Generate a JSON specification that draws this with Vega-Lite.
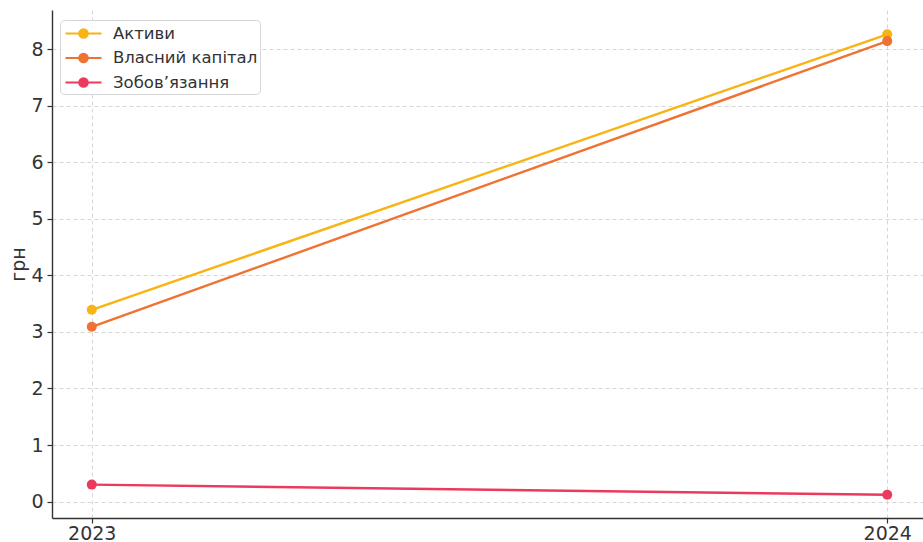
{
  "$schema": "https://vega.github.io/schema/vega-lite/v6.json",
  "width": 875,
  "height": 508,
  "autosize": {"type": "none"},
  "padding": {"left": 52, "top": 10, "right": 0, "bottom": 24},
  "background": "white",
  "config": {
    "font": "DejaVu Sans",
    "view": {"stroke": null},
    "axis": {
      "domainColor": "#333333",
      "domainWidth": 1.4,
      "tickColor": "#333333",
      "tickWidth": 1.2,
      "tickSize": 5,
      "labelColor": "#333333",
      "labelFont": "DejaVu Sans",
      "labelFontSize": 19,
      "grid": true,
      "gridColor": "#cccccc",
      "gridDash": [4, 3],
      "gridWidth": 0.8,
      "titleFont": "DejaVu Sans",
      "titleFontWeight": "normal",
      "titleColor": "#333333"
    }
  },
  "data": {
    "values": [
      {"year": 2023, "series": "Активи", "value": 3.39},
      {"year": 2024, "series": "Активи", "value": 8.26},
      {"year": 2023, "series": "Власний капітал", "value": 3.09},
      {"year": 2024, "series": "Власний капітал", "value": 8.14},
      {"year": 2023, "series": "Зобов’язання", "value": 0.30},
      {"year": 2024, "series": "Зобов’язання", "value": 0.12}
    ]
  },
  "mark": {"type": "line", "strokeWidth": 2.4, "point": {"size": 100, "filled": true, "opacity": 1}},
  "encoding": {
    "x": {
      "field": "year",
      "type": "quantitative",
      "scale": {"domain": [2022.95, 2024.05], "nice": false, "zero": false},
      "axis": {"values": [2023, 2024], "format": "d", "title": null, "labelPadding": 1}
    },
    "y": {
      "field": "value",
      "type": "quantitative",
      "scale": {"domain": [-0.29, 8.69], "nice": false, "zero": false},
      "axis": {"values": [0, 1, 2, 3, 4, 5, 6, 7, 8], "title": "грн", "titleFontSize": 19, "titlePadding": 2, "labelPadding": 4}
    },
    "color": {
      "field": "series",
      "type": "nominal",
      "sort": ["Активи", "Власний капітал", "Зобов’язання"],
      "scale": {
        "domain": ["Активи", "Власний капітал", "Зобов’язання"],
        "range": ["#F9B414", "#F07233", "#EC3A5E"]
      },
      "legend": {
        "orient": "none",
        "legendX": 8,
        "legendY": 10,
        "title": null,
        "fillColor": "rgba(255,255,255,0.85)",
        "strokeColor": "#d6d6d6",
        "cornerRadius": 4,
        "padding": 2,
        "labelFont": "DejaVu Sans",
        "labelFontSize": 16.5,
        "labelColor": "#333333",
        "symbolType": "M-0.8,0 L2.8,0 M0.58,0 A0.42,0.42 0 1,1 1.42,0 A0.42,0.42 0 1,1 0.58,0 Z",
        "symbolSize": 400,
        "symbolStrokeWidth": 2.2,
        "symbolOpacity": 1,
        "labelOffset": 28,
        "rowPadding": 3.5
      }
    }
  }
}
